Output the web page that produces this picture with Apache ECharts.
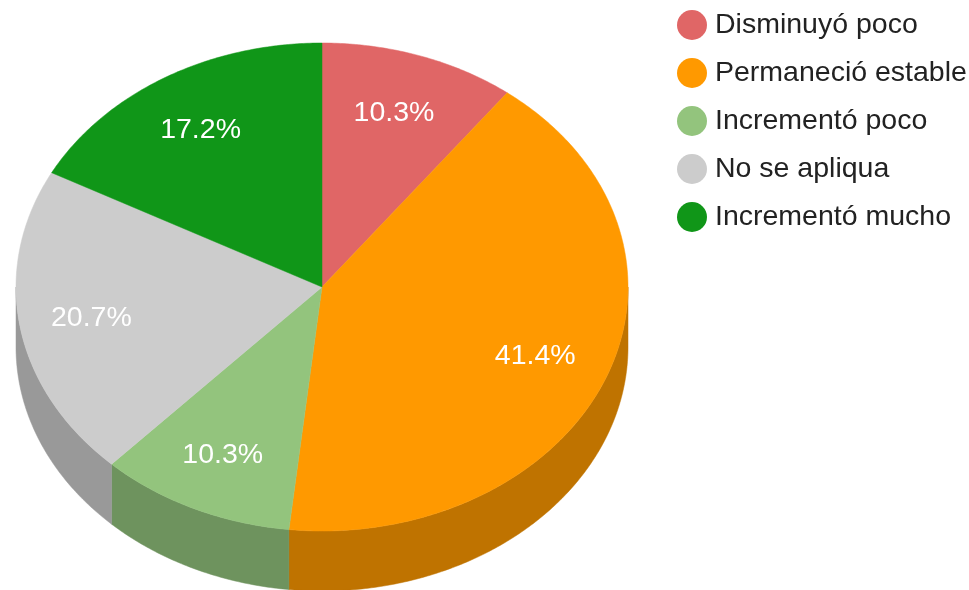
<!DOCTYPE html>
<html>
<head>
<meta charset="utf-8">
<style>html,body{margin:0;padding:0;background:#fff}#c{width:969px;height:590px;filter:blur(0.5px)}</style>
<script src="https://cdn.jsdelivr.net/npm/echarts@6/dist/echarts.min.js"></script>
</head>
<body>
<div id="c"></div>
<script>
const categories = ['Disminuyó poco', 'Permaneció estable', 'Incrementó poco', 'No se apliqua', 'Incrementó mucho'];
const values = [3, 12, 3, 6, 5];
const topColors = ['#e06666', '#ff9900', '#93c47d', '#cccccc', '#109618'];
const sideColors = ['#a84d4d', '#bf7300', '#6e935e', '#999999', '#0c7112'];

const CX = 322, CY = 287, RX = 306, RY = 244, DEPTH = 60, LABEL_R = 0.757;
const LABEL_DX = -2, LABEL_DY = 1;
const FONT = '"Liberation Sans", Arial, sans-serif';
const total = values.reduce((a, b) => a + b, 0);
const pt = (t, dy) => [CX + RX * Math.sin(t), CY + (dy || 0) - RY * Math.cos(t)];
const arc = (a, b, dy) => {
  const n = Math.max(2, Math.ceil((b - a) / 0.01));
  const out = [];
  for (let i = 0; i <= n; i++) out.push(pt(a + (b - a) * i / n, dy));
  return out;
};

function renderSlice(idx) {
  return function () {
    const before = values.slice(0, idx).reduce((a, b) => a + b, 0);
    const a = before / total * 2 * Math.PI;
    const b = (before + values[idx]) / total * 2 * Math.PI;
    const children = [];
    const sa = Math.max(a, Math.PI / 2), sb = Math.min(b, 3 * Math.PI / 2);
    if (sb > sa) {
      children.push({
        type: 'polygon', z2: 1,
        shape: { points: arc(sa, sb, 0).concat(arc(sa, sb, DEPTH).reverse()) },
        style: { fill: sideColors[idx], stroke: sideColors[idx], lineWidth: 0.5 }
      });
    }
    children.push({
      type: 'polygon', z2: 5,
      shape: { points: [[CX, CY]].concat(arc(a, b, 0)) },
      style: { fill: topColors[idx], stroke: topColors[idx], lineWidth: 0.5 }
    });
    const m = (a + b) / 2;
    children.push({
      type: 'text', z2: 10,
      style: {
        x: CX + RX * LABEL_R * Math.sin(m) + LABEL_DX,
        y: CY - RY * LABEL_R * Math.cos(m) + LABEL_DY,
        text: (values[idx] / total * 100).toFixed(1) + '%',
        fill: '#ffffff', font: '28.5px ' + FONT,
        align: 'center', verticalAlign: 'middle'
      }
    });
    return { type: 'group', children };
  };
}

const chart = echarts.init(document.getElementById('c'), null, { renderer: 'canvas' });
chart.setOption({
  animation: false,
  backgroundColor: '#ffffff',
  legend: {
    orient: 'vertical', left: 672, top: 3,
    icon: 'circle', itemWidth: 30, itemHeight: 30, itemGap: 14,
    padding: 5, selectedMode: false,
    data: categories,
    textStyle: { color: '#222222', fontSize: 28.5, fontFamily: FONT, lineHeight: 30, padding: [4, 0, 0, 3] }
  },
  series: categories.map((name, i) => ({
    type: 'custom', name, coordinateSystem: 'none',
    itemStyle: { color: topColors[i] },
    renderItem: renderSlice(i),
    data: [[values[i]]],
    silent: true
  }))
});
</script>
</body>
</html>
